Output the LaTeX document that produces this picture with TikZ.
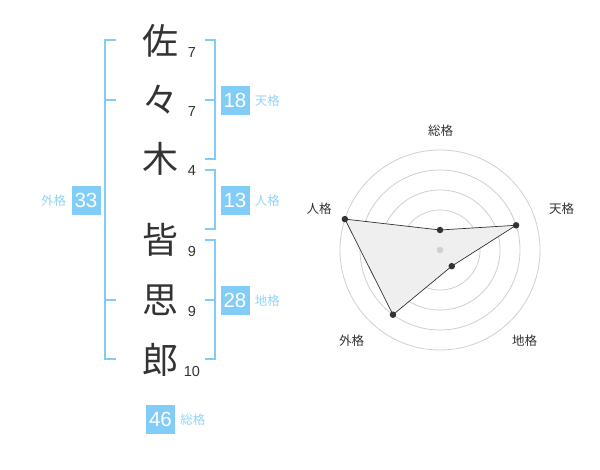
\documentclass[tikz,border=0pt]{standalone}
\usepackage{fontspec}
\setmainfont{Liberation Sans}
\newfontfamily\jp{Noto Sans CJK JP}
\usetikzlibrary{positioning}
\definecolor{kakublue}{HTML}{82CDF8}
\definecolor{kakulabel}{HTML}{94D3F5}
\definecolor{ink}{HTML}{333333}
\definecolor{ring}{HTML}{CFCFCF}
\definecolor{area}{HTML}{EFEFEF}
\tikzset{
  kanji/.style={text=ink, font=\jp\fontsize{36}{36}\selectfont, inner sep=0pt},
  strokes/.style={text=ink, font=\fontsize{14.5}{15}\selectfont, inner sep=0pt},
  score/.style={fill=kakublue, text=white, minimum size=29pt, inner sep=0pt, font=\fontsize{20.5}{21}\selectfont},
  kaku/.style={text=kakulabel, font=\jp\fontsize{12.5}{13}\selectfont, inner sep=0pt},
  bracket/.style={draw=kakublue, line width=2pt},
  axis/.style={text=ink, font=\jp\fontsize{12.5}{13}\selectfont, inner sep=0pt},
  dot/.style={circle, fill=ink, inner sep=0pt, minimum size=6.5pt}
}
\begin{document}
\begin{tikzpicture}[x=1pt, y=-1pt, node distance=59pt]
           \useasboundingbox (0,0) rectangle (600,470);
           \node [kanji] (sa) at (160,41) {佐};
           \node [kanji, below of=sa] (noma) {々};
           \node [kanji, below of=noma] (ki) {木};
           \node [kanji] (mina) at (160,240) {皆};
           \node [kanji, below of=mina, node distance=60pt] (omo) {思};
           \node [kanji, below of=omo, node distance=60pt] (rou) {郎};
           \foreach \n/\k in {sa/7, noma/7, ki/4, mina/9, omo/9, rou/10}
              \node [strokes] (\n-k) at ([xshift=32pt, yshift=-12pt]\n.center) {\k};

           \coordinate (gai-a) at (116,40);
           \coordinate (gai-b) at (116,100);
           \coordinate (gai-c) at (116,300);
           \coordinate (gai-d) at (116,359);
           \coordinate (gai-top) at (105,40);
           \coordinate (gai-bot) at (105,359);
           \draw [bracket] (gai-a) -- (gai-top) -- (gai-bot) -- (gai-d);
           \draw [bracket] (gai-b) -- (gai-b -| gai-top);
           \draw [bracket] (gai-c) -- (gai-c -| gai-top);

           \coordinate (ten-a) at (205,40);
           \coordinate (ten-b) at (205,100);
           \coordinate (ten-d) at (205,159);
           \draw [bracket] (ten-a) -- (215,40) -- (215,159) -- (ten-d);
           \draw [bracket] (ten-b) -- (215,100);
           \coordinate (jin-a) at (205,170);
           \coordinate (jin-d) at (205,229);
           \draw [bracket] (jin-a) -- (215,170) -- (215,229) -- (jin-d);
           \coordinate (chi-a) at (205,240);
           \coordinate (chi-b) at (205,300);
           \coordinate (chi-d) at (205,359);
           \draw [bracket] (chi-a) -- (215,240) -- (215,359) -- (chi-d);
           \draw [bracket] (chi-b) -- (215,300);

           \node [score] (gai) at (86,200.5) {33};
           \node [kaku, left=5pt of gai] (gai-l) {外格};
           \node [score] (ten) at (235,100.5) {18};
           \node [kaku, right=5pt of ten] (ten-l) {天格};
           \node [score] (jin) at (235,200.5) {13};
           \node [kaku, right=5pt of jin] (jin-l) {人格};
           \node [score] (chi) at (235,300.5) {28};
           \node [kaku, right=5pt of chi] (chi-l) {地格};
           \node [score] (sou) at (160.5,419.5) {46};
           \node [kaku, right=5pt of sou] (sou-l) {総格};

           \begin{scope}[shift={(440,250)}, y=1pt]
              \foreach \r in {20,40,...,100}
                 \draw [ring, line width=0.8pt] (0,0) circle (\r);
              \coordinate (p-sou) at (90:20);
              \coordinate (p-ten) at (18:80);
              \coordinate (p-chi) at (-54:20);
              \coordinate (p-gai) at (-126:80);
              \coordinate (p-jin) at (162:100);
              \draw [fill=area, draw=ink, line width=0.7pt] (p-sou) -- (p-ten) -- (p-chi) -- (p-gai) -- (p-jin) -- cycle;
              \node [dot, fill=ring] (center) at (0,0) {};
              \foreach \p in {sou,ten,chi,gai,jin}
                 \node [dot] (d-\p) at (p-\p) {};
           \end{scope}
           \node [axis] (l-sou) at (440.5,131) {総格};
           \node [axis] (l-ten) at (561.5,208.5) {天格};
           \node [axis] (l-chi) at (524.5,340.5) {地格};
           \node [axis] (l-gai) at (351.5,340.5) {外格};
           \node [axis] (l-jin) at (319,208.5) {人格};
      \end{tikzpicture}
\end{document}
